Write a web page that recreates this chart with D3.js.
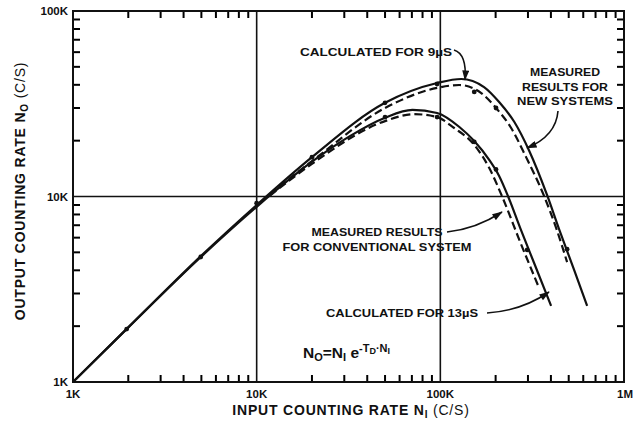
<!DOCTYPE html>
<html>
<head>
<meta charset="utf-8">
<script src="https://cdn.jsdelivr.net/npm/d3@7"></script>
<style>
  body { margin: 0; background: #fff; }
  svg text { font-family: "Liberation Sans", Arial, sans-serif; font-weight: bold; fill: #111; }
</style>
</head>
<body>
<svg id="chart" width="633" height="424"></svg>
<script>
// all rates in K counts/s
const xTickValues = [1, 10, 100, 1000];
const xTickLabels = ["1K", "10K", "100K", "1M"];
const yTickValues = [1, 10, 100];
const yTickLabels = ["1K", "10K", "100K"];

// calculated for 9 us (solid)
const calc9In  = [1, 2, 5, 10, 20, 50, 96, 130, 173, 209, 253, 305, 381, 443, 535, 630];
const calc9Out = [1, 1.97, 4.8, 9.0, 16.3, 32, 40.9, 43, 38.9, 32.3, 25.2, 17.6, 10.2, 6.68, 4.02, 2.57];

// measured, new systems (dashed)
const meas9In  = [11.8, 20, 50, 96, 127, 167, 201, 243, 293, 367, 427, 490];
const meas9Out = [10.3, 15.5, 30.0, 38.5, 39.9, 36.1, 30.0, 23.4, 16.3, 10.07, 6.77, 4.43];

// calculated for 13 us (solid)
const calc13In  = [1, 2, 5, 10, 20, 32, 50, 70.5, 96, 127, 153, 185, 209, 234, 272, 324, 401];
const calc13Out = [1, 1.97, 4.75, 8.8, 15.4, 21.1, 26.6, 29.3, 28.2, 23.7, 19.9, 15.7, 12.9, 10.0, 6.77, 4.38, 2.57];

// measured, conventional system (dashed)
const meas13In  = [11.8, 20, 50, 72, 96, 119, 153, 185, 217, 272, 345];
const meas13Out = [10.1, 15.0, 25.5, 27.8, 26.8, 23.4, 19.0, 14.2, 10.0, 5.69, 3.21];

// measured data points
const dotIn  = [1.96, 4.96, 10, 20, 50, 50, 96, 96, 153, 201, 153, 201, 297, 490];
const dotOut = [1.93, 4.72, 9.2, 16.3, 32, 26.8, 40.4, 26.8, 36.6, 30, 19.7, 14.0, 5.15, 5.2];

// minor tick values per decade
const minorSteps = [2, 3, 4, 5, 6, 7, 8, 9];
const decades = [1, 10, 100];

const svg = d3.select("#chart");

const x = d3.scaleLog().domain([1, 1000]).range([73, 624]);
const y = d3.scaleLog().domain([1, 100]).range([382, 11]);

const minorX = decades.flatMap(d => minorSteps.map(k => d * k));
const minorY = minorX.filter(v => v < 100);
const tickLen = 7;

// minor ticks pointing into the plot on all four sides
const tickG = svg.append("g").attr("class", "minor-ticks");
tickG.selectAll("line.bx").data(minorX).join("line").attr("class", "bx")
    .attr("x1", d => x(d)).attr("x2", d => x(d))
    .attr("y1", y(1)).attr("y2", y(1) - tickLen);
tickG.selectAll("line.tx").data(minorX).join("line").attr("class", "tx")
    .attr("x1", d => x(d)).attr("x2", d => x(d))
    .attr("y1", y(100)).attr("y2", y(100) + tickLen);
tickG.selectAll("line.ly").data(minorY).join("line").attr("class", "ly")
    .attr("x1", x(1)).attr("x2", x(1) + tickLen)
    .attr("y1", d => y(d)).attr("y2", d => y(d));
tickG.selectAll("line.ry").data(minorY).join("line").attr("class", "ry")
    .attr("x1", x(1000)).attr("x2", x(1000) - tickLen)
    .attr("y1", d => y(d)).attr("y2", d => y(d));
tickG.selectAll("line").attr("stroke", "#000").attr("stroke-width", 2);

// grid lines at the inner decades
svg.append("g").selectAll("line").data([10, 100]).join("line")
    .attr("x1", d => x(d)).attr("x2", d => x(d))
    .attr("y1", y(1)).attr("y2", y(100))
    .attr("stroke", "#111").attr("stroke-width", 1.6);
svg.append("line")
    .attr("x1", x(1)).attr("x2", x(1000))
    .attr("y1", y(10)).attr("y2", y(10))
    .attr("stroke", "#111").attr("stroke-width", 1.6);

// frame
svg.append("rect")
    .attr("x", x(1)).attr("y", y(100))
    .attr("width", x(1000) - x(1)).attr("height", y(1) - y(100))
    .attr("fill", "none").attr("stroke", "#111").attr("stroke-width", 2);

// tick labels
svg.append("g").selectAll("text").data(xTickValues).join("text")
    .attr("x", (d, i) => i === 3 ? 633 : x(d))
    .attr("y", 398)
    .attr("text-anchor", (d, i) => i === 3 ? "end" : "middle")
    .attr("font-size", 11.5)
    .text((d, i) => xTickLabels[i]);
svg.append("g").selectAll("text").data(yTickValues).join("text")
    .attr("x", 68)
    .attr("y", d => y(d) + 4)
    .attr("text-anchor", "end")
    .attr("font-size", 11.5)
    .text((d, i) => yTickLabels[i]);

// curves
const line = d3.line().x(d => x(d[0])).y(d => y(d[1])).curve(d3.curveMonotoneX);
const series = [
    { xs: calc9In, ys: calc9Out, dash: null },
    { xs: meas9In, ys: meas9Out, dash: "8,4" },
    { xs: calc13In, ys: calc13Out, dash: null },
    { xs: meas13In, ys: meas13Out, dash: "8,4" }
];
svg.append("g").selectAll("path").data(series).join("path")
    .attr("d", s => line(d3.zip(s.xs, s.ys)))
    .attr("fill", "none")
    .attr("stroke", "#111")
    .attr("stroke-width", 2.2)
    .attr("stroke-dasharray", s => s.dash);

svg.append("g").selectAll("circle").data(d3.zip(dotIn, dotOut)).join("circle")
    .attr("cx", d => x(d[0])).attr("cy", d => y(d[1]))
    .attr("r", 2.4).attr("fill", "#111");

// arrows
svg.append("defs").append("marker")
    .attr("id", "head")
    .attr("viewBox", "0 0 12 8")
    .attr("refX", 11).attr("refY", 4)
    .attr("markerWidth", 13).attr("markerHeight", 7)
    .attr("markerUnits", "userSpaceOnUse")
    .attr("orient", "auto")
    .append("path").attr("d", "M0,0 L12,4 L0,8 Z").attr("fill", "#111");

const arrows = [
    "M454,50 Q467,54 465,80",
    "M558,111 Q556,136 527,148",
    "M447,232 Q476,229 502,212",
    "M487,313 Q521,311 549,292"
];
svg.append("g").selectAll("path").data(arrows).join("path")
    .attr("d", d => d)
    .attr("fill", "none").attr("stroke", "#111").attr("stroke-width", 1.6)
    .attr("marker-end", "url(#head)");

// annotations
const notes = [
    { lines: ["CALCULATED FOR 9\u00b5S"], x: 376, y: 56, w: [152] },
    { lines: ["MEASURED", "RESULTS FOR", "NEW SYSTEMS"], x: 565, y: 76, w: [70, 86, 96] },
    { lines: ["MEASURED RESULTS", "FOR CONVENTIONAL SYSTEM"], x: 377, y: 236, w: [131, 189] },
    { lines: ["CALCULATED FOR 13\u00b5S"], x: 402, y: 317, w: [152] }
];
notes.forEach(n => {
    n.lines.forEach((t, i) => {
        svg.append("text")
            .attr("x", n.x).attr("y", n.y + i * 14.5)
            .attr("text-anchor", "middle")
            .attr("font-size", 11)
            .attr("textLength", n.w[i])
            .attr("lengthAdjust", "spacingAndGlyphs")
            .text(t);
    });
});

// formula
const f = svg.append("text").attr("x", 303).attr("y", 358).attr("font-size", 15.5);
f.append("tspan").text("N");
f.append("tspan").attr("font-size", 11).attr("dy", 3).text("O");
f.append("tspan").attr("dy", -3).text("=N");
f.append("tspan").attr("font-size", 11).attr("dy", 3).text("I");
f.append("tspan").attr("dy", -3).text(" e");
f.append("tspan").attr("font-size", 11).attr("dy", -6).text("-T");
f.append("tspan").attr("font-size", 9).attr("dy", 2).text("D");
f.append("tspan").attr("font-size", 11).attr("dy", -2).text("\u00b7N");
f.append("tspan").attr("font-size", 9).attr("dy", 2).text("I");

// axis titles
const xt = svg.append("text").attr("x", 351).attr("y", 415)
    .attr("text-anchor", "middle").attr("font-size", 14).attr("letter-spacing", 0.8);
xt.append("tspan").text("INPUT COUNTING RATE N");
xt.append("tspan").attr("font-size", 10).attr("dy", 3).text("I");
xt.append("tspan").attr("dy", -3).attr("font-weight", "normal").text(" (C/S)");

const yt = svg.append("text")
    .attr("transform", "translate(25,191) rotate(-90)")
    .attr("text-anchor", "middle").attr("font-size", 14).attr("letter-spacing", 0.8);
yt.append("tspan").text("OUTPUT COUNTING RATE N");
yt.append("tspan").attr("font-size", 10).attr("dy", 3).text("O");
yt.append("tspan").attr("dy", -3).attr("font-weight", "normal").text(" (C/S)");
</script>
</body>
</html>
